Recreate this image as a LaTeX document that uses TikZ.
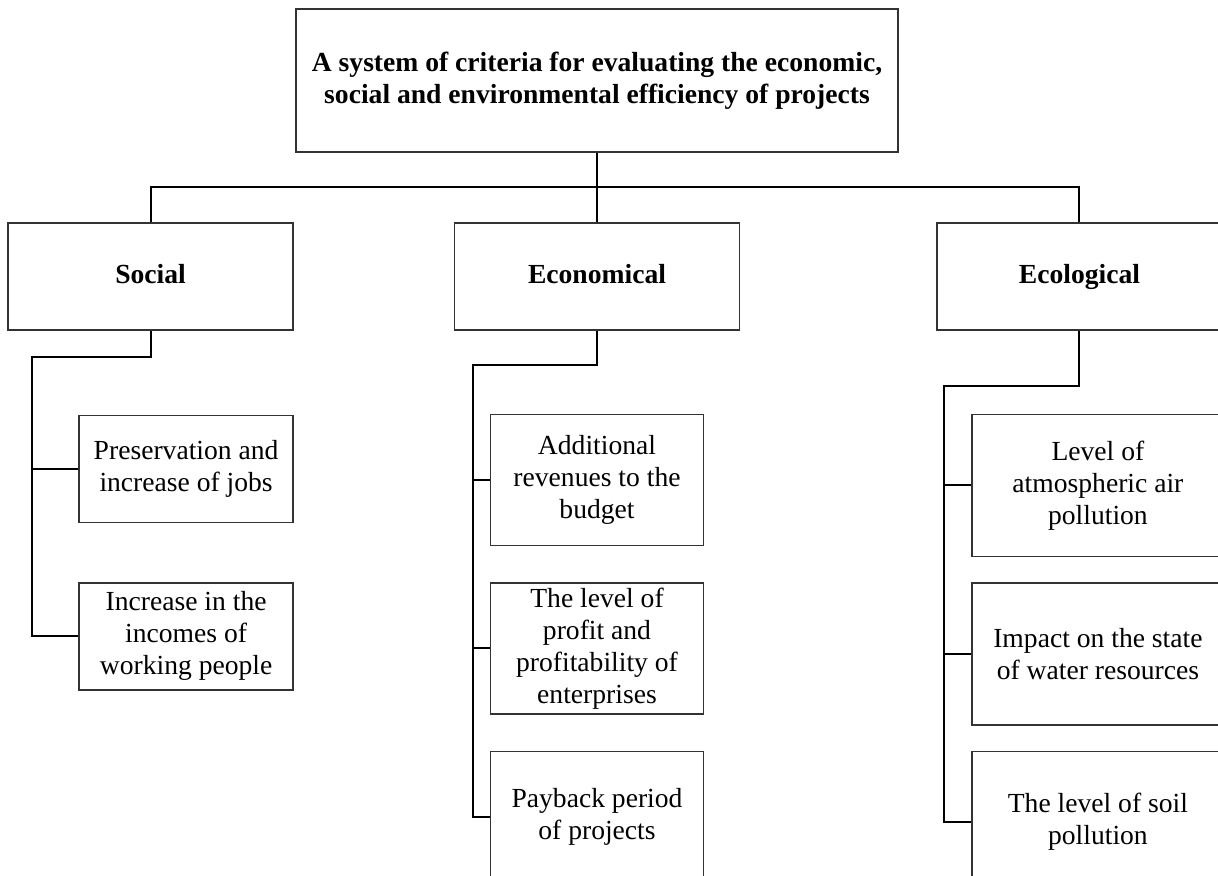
\documentclass[tikz,border=0pt]{standalone}
\usepackage{fontspec}
\setmainfont{Liberation Serif}
\usetikzlibrary{positioning}
\newcommand{\bodysize}{\fontsize{13.8}{16}\selectfont}
\tikzset{
  rootbox/.style={rectangle, draw=black!80, line width=0.7pt,
    minimum width=301pt, minimum height=71.5pt, align=center,
    font=\bodysize\bfseries, inner sep=1pt},
  groupbox/.style={rectangle, draw=black!80, line width=0.7pt,
    minimum width=142.5pt, minimum height=53.5pt, align=center,
    font=\bodysize\bfseries, inner sep=1pt,
    text height=0.83em, text depth=0.11em},
  itembox/.style 2 args={rectangle, draw=black!80, line width=0.7pt,
    minimum width=#1, minimum height=#2, align=center,
    font=\bodysize, inner sep=1pt},
  wire/.style={line width=1pt},
}

\begin{document}
\begin{tikzpicture}[x=1pt, y=1pt]
\useasboundingbox (0,0) rectangle (609,-438);
\clip (0,0) rectangle (609,-438);

\node[rootbox] (root) at (298.5,-40.25) {A system of criteria for evaluating the economic,\\social and environmental efficiency of projects};

\node[groupbox] (econ) at (298.5,-138.25) {Economical};
\node[groupbox, left=80pt of econ] (soc) {Social};
\node[groupbox, right=98pt of econ] (eco) {Ecological};

% social column
\node[itembox={107pt}{53.5pt}, below right=42pt and 35.5pt of soc.south west] (s1) {Preservation and\\increase of jobs};
\node[itembox={107pt}{53.5pt}, below=29.5pt of s1] (s2) {Increase in the\\incomes of\\working people};

% economical column
\node[itembox={106.5pt}{65.5pt}, below right=41.5pt and 18pt of econ.south west] (e1) {Additional\\revenues to the\\budget};
\node[itembox={106.5pt}{65.5pt}, below=18pt of e1] (e2) {The level of\\profit and\\profitability of\\enterprises};
\node[itembox={106.5pt}{65.5pt}, below=18pt of e2] (e3) {Payback period\\of projects};

% ecological column
\node[itembox={126pt}{71pt}, below right=41.5pt and 17.5pt of eco.south west] (k1) {Level of\\atmospheric air\\pollution};
\node[itembox={126pt}{71pt}, below=12.5pt of k1] (k2) {Impact on the state\\of water resources};
\node[itembox={126pt}{71pt}, below=12.5pt of k2] (k3) {The level of soil\\pollution};

\coordinate (bus) at (298.5,-93.5);
\coordinate (sx) at (16,-178.5);
\coordinate (ex) at (236.5,-182.5);
\coordinate (kx) at (472,-193);

\draw[wire] (root) -- (econ);
\draw[wire] (soc.north) |- (bus) -| (eco.north);

\draw[wire] (soc.south) |- (sx) |- (s2.west);
\draw[wire] (s1.west -| sx) -- (s1.west);

\draw[wire] (econ.south) |- (ex) |- (e3.west);
\draw[wire] (e1.west -| ex) -- (e1.west);
\draw[wire] (e2.west -| ex) -- (e2.west);

\draw[wire] (eco.south) |- (kx) |- (k3.west);
\draw[wire] (k1.west -| kx) -- (k1.west);
\draw[wire] (k2.west -| kx) -- (k2.west);
\end{tikzpicture}
\end{document}
